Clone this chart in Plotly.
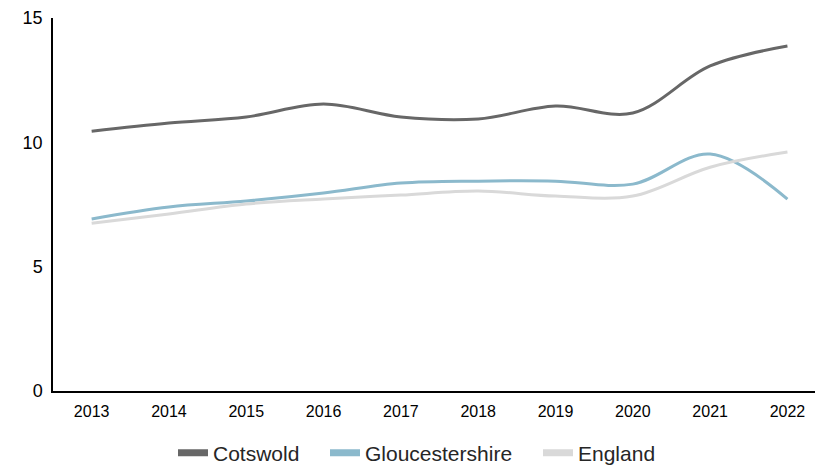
import plotly.graph_objects as go

years = ["2013", "2014", "2015", "2016", "2017", "2018", "2019", "2020", "2021", "2022"]
cotswold = [10.45, 10.78, 11.02, 11.54, 11.02, 10.94, 11.46, 11.18, 13.07, 13.87]
gloucestershire = [6.92, 7.40, 7.64, 7.96, 8.36, 8.44, 8.44, 8.32, 9.53, 7.72]
england = [6.75, 7.12, 7.52, 7.72, 7.88, 8.04, 7.84, 7.84, 9.00, 9.61]
y_ticks = [0, 5, 10, 15]

series = [
    ("Cotswold", cotswold, "#676767"),
    ("Gloucestershire", gloucestershire, "#8bb9cc"),
    ("England", england, "#d9d9d9"),
]
legend_ids = ["legend", "legend2", "legend3"]
legend_x = [165, 317, 530]  # figure pixel positions of legend boxes

fig = go.Figure()
for name, vals, color in series:
    fig.add_trace(go.Scatter(
        x=years, y=vals, name=name, mode="lines",
        line=dict(color=color, width=3, shape="spline", smoothing=1.0),
        showlegend=False,
    ))
for (name, vals, color), lid in zip(series, legend_ids):
    fig.add_trace(go.Scatter(
        x=[None], y=[None], name=name, mode="lines",
        line=dict(color=color, width=7),
        showlegend=True, legend=lid,
    ))

# page has an 8px body margin, so the figure is 815x458
W, H = 815, 458
legend_common = dict(
    orientation="h", xref="container", yref="container",
    xanchor="left", yanchor="middle", y=(H - 445) / H,
    font=dict(size=21, color="#262626"), itemwidth=30,
    bgcolor="rgba(0,0,0,0)",
)
layout_legends = {}
for lid, lx in zip(legend_ids, legend_x):
    layout_legends[lid] = dict(legend_common, x=lx / W)

fig.update_layout(
    width=W, height=H,
    margin=dict(l=45, r=0, t=10, b=75),
    paper_bgcolor="white", plot_bgcolor="white",
    font=dict(family="Liberation Sans, Arial, sans-serif", color="#000000"),
    showlegend=True,
    xaxis=dict(
        type="category", range=[-0.5, 9.46], automargin=False,
        showline=True, linecolor="#000000", linewidth=1.5,
        showgrid=False, zeroline=False, ticks="",
        tickfont=dict(size=16), ticklabelstandoff=5,
    ),
    yaxis=dict(
        range=[0, 15], tickvals=y_ticks, automargin=False,
        showline=True, linecolor="#000000", linewidth=1.5,
        showgrid=False, zeroline=False, ticks="",
        tickfont=dict(size=18), ticklabelstandoff=5,
    ),
    **layout_legends,
)

fig.write_html("out.html")
